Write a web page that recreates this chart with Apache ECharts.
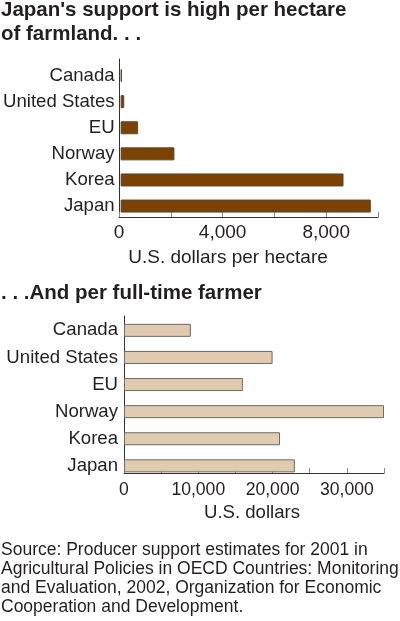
<!DOCTYPE html>
<html>
<head>
<meta charset="utf-8">
<script src="https://cdn.jsdelivr.net/npm/echarts@6/dist/echarts.min.js"></script>
<style>
html,body{margin:0;padding:0;background:#fff;}
#c{width:400px;height:621px;}
</style>
</head>
<body>
<div id="c"></div>
<script>
var categories = ['Canada', 'United States', 'EU', 'Norway', 'Korea', 'Japan'];
var perHectare = [50, 140, 680, 2090, 8660, 9720];
var perFarmer = [9000, 20000, 16000, 35000, 21000, 23000];
var hectareTicks = {min: 0, max: 10000, interval: 2000, labelEvery: 4000};
var farmerTicks = {min: 0, max: 35000, interval: 5000, labelEvery: 10000};
var titleTop = ["Japan's support is high per hectare", 'of farmland. . .'];
var titleBottom = '. . .And per full-time farmer';
var nameTop = 'U.S. dollars per hectare';
var nameBottom = 'U.S. dollars';
var sourceLines = [
  'Source: Producer support estimates for 2001 in',
  'Agricultural Policies in OECD Countries: Monitoring',
  'and Evaluation, 2002, Organization for Economic',
  'Cooperation and Development.'
];

var FONT = '"Liberation Sans", Arial, Helvetica, sans-serif';
var TXT = '#231f20';
var chart = echarts.init(document.getElementById('c'), null, {renderer: 'canvas'});

function fmt(every) {
  return function (v) { return v % every === 0 ? echarts.format.addCommas(v) : ''; };
}

var g = [
  // top: bars grid, axis grid
  {left: 119, right: 22, top: 62.5, height: 156.6},
  {left: 119, right: 22, top: 59, height: 158},
  // bottom
  {left: 124, right: 16, top: 316.8, height: 162.6},
  {left: 124, right: 16, top: 316, height: 157}
];

var xAxes = [
  {gridIndex: 0, type: 'value', min: hectareTicks.min, max: hectareTicks.max, show: false},
  {gridIndex: 1, type: 'value', min: hectareTicks.min, max: hectareTicks.max, interval: hectareTicks.interval,
    axisLine: {show: true, onZero: false, lineStyle: {color: '#333', width: 1}},
    axisTick: {show: true, inside: true, length: 5, lineStyle: {color: '#888'}},
    axisLabel: {formatter: fmt(hectareTicks.labelEvery), fontFamily: FONT, fontSize: 19, color: TXT, margin: 6},
    splitLine: {show: false}},
  {gridIndex: 2, type: 'value', min: farmerTicks.min, max: farmerTicks.max, show: false},
  {gridIndex: 3, type: 'value', min: farmerTicks.min, max: farmerTicks.max, interval: farmerTicks.interval,
    axisLine: {show: true, onZero: false, lineStyle: {color: '#333', width: 1}},
    axisTick: {show: true, inside: true, length: 5, lineStyle: {color: '#888'}},
    axisLabel: {formatter: fmt(farmerTicks.labelEvery), fontFamily: FONT, fontSize: 17.6, color: TXT, margin: 8},
    splitLine: {show: false}}
];

function catAxis(gi) {
  return {gridIndex: gi, type: 'category', data: categories, inverse: true,
    axisLine: {show: false}, axisTick: {show: false},
    axisLabel: {fontFamily: FONT, fontSize: 18.6, color: TXT, margin: 6}};
}
function lineAxis(gi) {
  return {gridIndex: gi, type: 'value', min: 0, max: 1,
    axisLine: {show: true, onZero: false, lineStyle: {color: '#333', width: 1}},
    axisTick: {show: false}, axisLabel: {show: false}, splitLine: {show: false}};
}

var graphics = [];
function txt(s, x, y, size, weight, align) {
  graphics.push({type: 'text', x: x, y: y, style: {
    text: s, fontFamily: FONT, fontSize: size, fontWeight: weight || 'normal',
    fill: TXT, align: align || 'left', verticalAlign: 'bottom'}});
}
txt(titleTop[0], 1, 21, 20.5, 'bold');
txt(titleTop[1], 1, 45, 20.5, 'bold');
txt(titleBottom, 1, 303.5, 20.5, 'bold');
txt(nameTop, 228, 267, 19, 'normal', 'center');
txt(nameBottom, 252, 522, 18.6, 'normal', 'center');
for (var i = 0; i < sourceLines.length; i++) {
  txt(sourceLines[i], 1, 559 + i * 19, 17.5);
}

chart.setOption({
  animation: false,
  grid: g,
  xAxis: xAxes,
  yAxis: [catAxis(0), lineAxis(1), catAxis(2), lineAxis(3)],
  series: [
    {type: 'bar', xAxisIndex: 0, yAxisIndex: 0, data: perHectare, barWidth: 13,
      itemStyle: {color: '#7b4200', borderColor: '#5a4636', borderWidth: 1}},
    {type: 'bar', xAxisIndex: 2, yAxisIndex: 2, data: perFarmer, barWidth: 13,
      itemStyle: {color: '#e0cbb1', borderColor: '#6e6a66', borderWidth: 1}}
  ],
  graphic: graphics
});
</script>
</body>
</html>
